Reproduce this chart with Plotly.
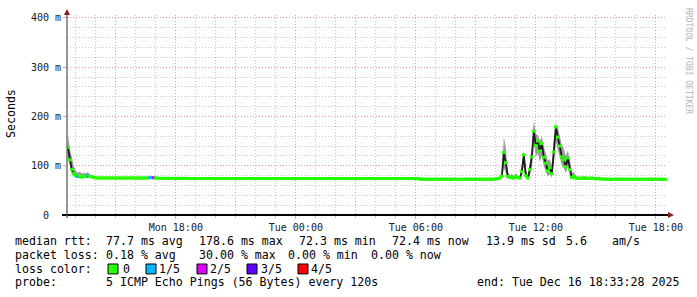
import plotly.graph_objects as go
import pandas as pd

# ---------------- data ----------------
RANGE_START = "2025-12-15 12:33:28"
RANGE_END = "2025-12-16 18:33:28"
FIRST_SAMPLE = "2025-12-15 12:36:00"
SAMPLE_STEP = "6min"

# median rtt in milliseconds, one value per 6 minutes (one row = 1 hour)
median_ms = [
    137, 112, 92, 84, 80, 78, 79, 77, 78, 79,
    79, 78, 78, 76, 75.5, 75, 75.2, 75, 75.1, 75,
    75.2, 75, 75.1, 75, 75.3, 75, 74.9, 75, 75.1, 75,
    75, 75.2, 74.9, 75, 75.1, 75, 75, 74.8, 75, 75.1,
    75, 75.8, 76, 75.5, 75, 74.8, 74, 74.2, 74.5, 74.4,
    74.4, 74.3, 74.4, 74.3, 74.5, 74.3, 74.2, 74.3, 74.4, 74.3,
    74.2, 74, 74.1, 74, 74.2, 74.1, 74, 73.9, 74, 74.1,
    74, 74.1, 74, 73.9, 74, 74.2, 74, 74.1, 73.9, 74,
    74.1, 74, 73.9, 74, 74, 74.1, 74, 73.9, 74, 74.1,
    74, 73.9, 74, 74.1, 74, 74, 73.9, 74, 74.1, 74,
    73.9, 74, 74, 74.1, 74, 73.9, 74, 74, 74.1, 74,
    74, 74.1, 73.9, 74, 74, 74.1, 74, 73.9, 74, 74,
    74.1, 74, 74, 73.9, 74, 74.1, 74, 74, 73.9, 74,
    74, 73.9, 74.1, 74, 74, 73.9, 74, 74.1, 74, 74,
    73.9, 74, 74, 74.1, 74, 74, 73.9, 74, 74.1, 74,
    74, 74.1, 74, 73.9, 74, 74, 74.1, 74, 73.9, 74,
    74, 74, 74.1, 74, 73.9, 74, 74, 74.1, 74, 74,
    74, 73.9, 74, 74.1, 74, 74, 72.7, 72.6, 72.6, 72.7,
    72.6, 72.5, 72.6, 72.7, 72.6, 72.5, 72.6, 72.6, 72.7, 72.6,
    72.5, 72.6, 72.6, 72.7, 72.6, 72.5, 72.6, 72.3, 72.6, 72.7,
    72.6, 72.6, 72.5, 72.6, 72.7, 72.6, 72.5, 72.6, 72.6, 72.7,
    72.6, 72.7, 72.6, 72.8, 73, 74, 75, 79, 127, 106,
    78, 76, 77, 75, 78, 76, 75, 88, 122, 80,
    75, 92, 118, 170, 141, 150, 130, 145, 117, 105,
    90, 96, 84, 128, 178.6, 158, 140, 118, 112, 98,
    116, 92, 76, 79, 75, 74.5, 75, 74, 75.5, 74.5,
    74.8, 74.2, 75, 74, 73.6, 74.2, 73.5, 73, 72.8, 72.6,
    72.7, 72.6, 72.5, 72.6, 72.7, 72.6, 72.5, 72.6, 72.7, 72.6,
    72.6, 72.5, 72.6, 72.6, 72.7, 72.6, 72.5, 72.6, 72.6, 72.5,
    72.6, 72.7, 72.6, 72.5, 72.6, 72.6, 72.5, 72.6, 72.5, 72.4,
]

# highest ping of each sample (top of the smoke)
smoke_hi_ms = [
    165, 135, 118, 98, 90, 86, 88, 84, 86, 84,
    87, 82, 81, 79, 77.5, 76.5, 76.7, 76.5, 76.6, 76.5,
    76.7, 76.5, 76.6, 76.5, 77, 76.5, 76.4, 76.5, 76.6, 76.5,
    76.5, 76.7, 76.4, 76.5, 76.6, 76.5, 76.5, 76.3, 76.5, 76.6,
    76.5, 77.5, 78, 77, 76.5, 76.3, 75.8, 75.7, 76, 75.9,
    75.9, 75.8, 75.9, 75.8, 76, 75.8, 75.7, 75.8, 75.9, 75.8,
    75.7, 75.5, 75.6, 75.5, 75.7, 75.6, 75.5, 75.4, 75.5, 75.6,
    75.5, 75.6, 75.5, 75.4, 75.5, 75.7, 75.5, 75.6, 75.4, 75.5,
    75.6, 75.5, 75.4, 75.5, 75.5, 75.6, 75.5, 75.4, 75.5, 75.6,
    75.5, 75.4, 75.5, 75.6, 75.5, 75.5, 75.4, 75.5, 75.6, 75.5,
    75.4, 75.5, 75.5, 75.6, 75.5, 75.4, 75.5, 75.5, 75.6, 75.5,
    75.5, 75.6, 75.4, 75.5, 75.5, 75.6, 75.5, 75.4, 75.5, 75.5,
    75.6, 75.5, 75.5, 75.4, 75.5, 75.6, 75.5, 75.5, 75.4, 75.5,
    75.5, 75.4, 75.6, 75.5, 75.5, 75.4, 75.5, 75.6, 75.5, 75.5,
    75.4, 75.5, 75.5, 75.6, 75.5, 75.5, 75.4, 75.5, 75.6, 75.5,
    75.5, 75.6, 75.5, 75.4, 75.5, 75.5, 75.6, 75.5, 75.4, 75.5,
    75.5, 75.5, 75.6, 75.5, 75.4, 75.5, 75.5, 75.6, 75.5, 75.5,
    75.5, 75.4, 75.5, 75.6, 75.5, 75.5, 74.2, 74.1, 74.1, 74.2,
    74.1, 74, 74.1, 74.2, 74.1, 74, 74.1, 74.1, 74.2, 74.1,
    74, 74.1, 74.1, 74.2, 74.1, 74, 74.1, 73.8, 74.1, 74.2,
    74.1, 74.1, 74, 74.1, 74.2, 74.1, 74, 74.1, 74.1, 74.2,
    74.1, 74.2, 74.1, 74.3, 74.8, 75.5, 77, 86, 159, 135,
    88, 80, 83, 79, 85, 80, 78, 100, 131, 93,
    80, 106, 140, 193, 165, 162, 150, 160, 138, 125,
    110, 113, 100, 155, 186, 178, 160, 142, 135, 120,
    131, 112, 85, 88, 79, 77, 78, 76.5, 79, 76.5,
    77, 76, 78, 75.5, 75, 76.5, 75, 74.5, 74.2, 74,
    74.1, 74, 73.9, 74, 74.1, 76, 73.9, 74, 74.1, 74,
    74, 73.9, 74, 75.5, 74.1, 74, 73.9, 74, 74, 73.9,
    74, 74.1, 74, 73.9, 74, 74, 73.9, 74, 73.9, 73.8,
]

# lowest ping of each sample (bottom of the smoke)
smoke_lo_ms = [
    118, 96, 82, 78, 76, 75, 75, 74, 75, 75,
    76, 75.5, 75.5, 75, 74.5, 74, 74.2, 74, 74.1, 74,
    74.2, 74, 74.1, 74, 74.3, 74, 73.9, 74, 74.1, 74,
    74, 74.2, 73.9, 74, 74.1, 74, 74, 73.8, 74, 74.1,
    74, 74.8, 75, 74.5, 74, 73.8, 73, 73.2, 73.5, 73.4,
    73.4, 73.3, 73.4, 73.3, 73.5, 73.3, 73.2, 73.3, 73.4, 73.3,
    73.2, 73, 73.1, 73, 73.2, 73.1, 73, 72.9, 73, 73.1,
    73, 73.1, 73, 72.9, 73, 73.2, 73, 73.1, 72.9, 73,
    73.1, 73, 72.9, 73, 73, 73.1, 73, 72.9, 73, 73.1,
    73, 72.9, 73, 73.1, 73, 73, 72.9, 73, 73.1, 73,
    72.9, 73, 73, 73.1, 73, 72.9, 73, 73, 73.1, 73,
    73, 73.1, 72.9, 73, 73, 73.1, 73, 72.9, 73, 73,
    73.1, 73, 73, 72.9, 73, 73.1, 73, 73, 72.9, 73,
    73, 72.9, 73.1, 73, 73, 72.9, 73, 73.1, 73, 73,
    72.9, 73, 73, 73.1, 73, 73, 72.9, 73, 73.1, 73,
    73, 73.1, 73, 72.9, 73, 73, 73.1, 73, 72.9, 73,
    73, 73, 73.1, 73, 72.9, 73, 73, 73.1, 73, 73,
    73, 72.9, 73, 73.1, 73, 73, 71.7, 71.6, 71.6, 71.7,
    71.6, 71.5, 71.6, 71.7, 71.6, 71.5, 71.6, 71.6, 71.7, 71.6,
    71.5, 71.6, 71.6, 71.7, 71.6, 71.5, 71.6, 71.3, 71.6, 71.7,
    71.6, 71.6, 71.5, 71.6, 71.7, 71.6, 71.5, 71.6, 71.6, 71.7,
    71.6, 71.7, 71.6, 71.8, 72, 73, 73.5, 74, 96, 86,
    73.5, 73, 74, 73, 74, 73, 72.5, 78, 100, 75,
    72.5, 80, 95, 150, 118, 125, 108, 120, 98, 88,
    78, 82, 76, 105, 150, 132, 118, 100, 95, 85,
    100, 80, 73.5, 74, 73, 73, 73.2, 72.8, 73.5, 72.8,
    73.5, 73, 73.5, 72.8, 72.5, 73, 72.4, 72, 71.8, 71.6,
    71.7, 71.6, 71.5, 71.6, 71.7, 71.6, 71.5, 71.6, 71.7, 71.6,
    71.6, 71.5, 71.6, 71.6, 71.7, 71.6, 71.5, 71.6, 71.6, 71.5,
    71.6, 71.7, 71.6, 71.5, 71.6, 71.6, 71.5, 71.6, 71.5, 71.4,
]

# lost pings (out of 5) per sample
loss_count = [
    0, 0, 0, 0, 0, 1, 0, 0, 0, 0,
    1, 0, 0, 0, 0, 0, 0, 0, 0, 0,
    0, 0, 0, 0, 0, 0, 0, 0, 0, 0,
    0, 0, 0, 0, 0, 0, 0, 0, 0, 0,
    0, 1, 1, 2, 0, 0, 0, 0, 0, 0,
    0, 0, 0, 0, 0, 0, 0, 0, 0, 0,
    0, 0, 0, 0, 0, 0, 0, 0, 0, 0,
    0, 0, 0, 0, 0, 0, 0, 0, 0, 0,
    0, 0, 0, 0, 0, 0, 0, 0, 0, 0,
    0, 0, 0, 0, 0, 0, 0, 0, 0, 0,
    0, 0, 0, 0, 0, 0, 0, 0, 0, 0,
    0, 0, 0, 0, 0, 0, 0, 0, 0, 0,
    0, 0, 0, 0, 0, 0, 0, 0, 0, 0,
    0, 0, 0, 0, 0, 0, 0, 0, 0, 0,
    0, 0, 0, 0, 0, 0, 0, 0, 0, 0,
    0, 0, 0, 0, 0, 0, 0, 0, 0, 0,
    0, 0, 0, 0, 0, 0, 0, 0, 0, 0,
    0, 0, 0, 0, 0, 0, 0, 0, 0, 0,
    0, 0, 0, 0, 0, 0, 0, 0, 0, 0,
    0, 0, 0, 0, 0, 0, 0, 0, 0, 0,
    0, 0, 0, 0, 0, 0, 0, 0, 0, 0,
    0, 0, 0, 0, 0, 0, 0, 0, 0, 0,
    0, 0, 0, 0, 0, 0, 0, 0, 0, 0,
    0, 0, 0, 0, 0, 0, 0, 0, 0, 0,
    0, 0, 0, 0, 0, 0, 0, 0, 0, 0,
    0, 0, 0, 0, 0, 0, 0, 0, 0, 0,
    0, 0, 0, 0, 0, 0, 0, 0, 0, 0,
    0, 0, 0, 0, 0, 0, 0, 0, 0, 0,
    0, 0, 0, 0, 0, 0, 0, 0, 0, 0,
    0, 0, 0, 0, 0, 0, 0, 0, 0, 0,
]

loss_labels = ["0", "1/5", "2/5", "3/5", "4/5"]
loss_colors = ["#26ff00", "#00b8ff", "#dd00ff", "#5e00ff", "#ff0000"]

y_tick_values = [0, 100, 200, 300, 400]
y_tick_labels = ["0\u00a0\u00a0", "100 m", "200 m", "300 m", "400 m"]

row_heads = ["median rtt:", "packet loss:", "loss color:", "probe:"]
median_stats = ["77.7 ms avg", "178.6 ms max", "72.3 ms min", "72.4 ms now",
                "13.9 ms sd", "5.6", "am/s"]
loss_stats = ["0.18 % avg", "30.00 % max", "0.00 % min", "0.00 % now"]
probe_text = "5 ICMP Echo Pings (56 Bytes) every 120s"
end_text = "end: Tue Dec 16 18:33:28 2025"
y_title = "Seconds"
watermark = "RRDTOOL / TOBI OETIKER"

# ---------------- layout constants (pixels) ----------------
W, H = 697, 297
L, R, T, B = 67, 30, 13, 82
PW, PH = W - L - R, H - T - B
X0_PX, Y0_PX = L, T + PH  # plot origin in pixels


def px_x(p):
    return (p - X0_PX) / PW


def px_y(p):
    return (Y0_PX - p) / PH


MONO = "DejaVu Sans Mono"
TXT = 11.6
row_y_px = [241.5, 255.5, 269.5, 283]
median_stat_x = [107, 200, 300, 393, 487, 567, 613]
loss_stat_x = [107, 200, 289, 372]
legend_box_x = [108, 146, 197, 247, 298]
legend_lbl_x = [124, 160, 211, 262, 312]

times = pd.date_range(FIRST_SAMPLE, periods=len(median_ms), freq=SAMPLE_STEP)
marker_colors = [loss_colors[n] for n in loss_count]

fig = go.Figure()
# smoke (min..max band)
fig.add_trace(go.Scatter(x=times, y=smoke_hi_ms, mode="lines",
                         line=dict(width=0, color="#9c9c9c"),
                         hoverinfo="skip", showlegend=False))
fig.add_trace(go.Scatter(x=times, y=smoke_lo_ms, mode="lines",
                         line=dict(width=0, color="#9c9c9c"),
                         fill="tonexty", fillcolor="#9c9c9c",
                         hoverinfo="skip", showlegend=False))
# dark median trail
fig.add_trace(go.Scatter(x=times, y=median_ms, mode="lines",
                         line=dict(width=1.8, color="#1c1c1c"),
                         hoverinfo="skip", showlegend=False))
# loss-coloured median marks
fig.add_trace(go.Scatter(x=times, y=median_ms, mode="markers",
                         marker=dict(symbol="line-ew", size=2.6,
                                     line=dict(width=3, color=marker_colors)),
                         showlegend=False))

major_x = pd.date_range("2025-12-15 15:00", "2025-12-16 18:00", freq="3h")
minor_x = pd.date_range("2025-12-15 13:00", "2025-12-16 18:00", freq="1h")
major_x_text = [t.strftime("%a %H:%M") if t.hour % 6 == 0 else "" for t in major_x]

fig.update_xaxes(
    type="date", range=[RANGE_START, RANGE_END],
    tickmode="array", tickvals=list(major_x), ticktext=major_x_text,
    showgrid=True, gridcolor="#f29a9a", griddash="1px,2px", gridwidth=1,
    ticks="outside", ticklen=3, tickcolor="#f29a9a",
    tickfont=dict(family=MONO, size=10, color="#202020"),
    minor=dict(tickmode="array", tickvals=list(minor_x), showgrid=True,
               gridcolor="#c8c8c8", griddash="1px,2px", gridwidth=1,
               ticks="outside", ticklen=2, tickcolor="#c8c8c8"),
    showline=False, zeroline=False, fixedrange=True,
)
fig.update_yaxes(
    range=[0, 406], tickmode="array", tickvals=y_tick_values, ticktext=y_tick_labels,
    showgrid=True, gridcolor="#f29a9a", griddash="1px,2px", gridwidth=1,
    ticks="outside", ticklen=3, tickcolor="#f29a9a",
    tickfont=dict(family=MONO, size=10, color="#202020"),
    minor=dict(dtick=20, tick0=0, showgrid=True, gridcolor="#c8c8c8",
               griddash="1px,2px", gridwidth=1),
    showline=False, zeroline=False, fixedrange=True,
)

shapes = [
    dict(type="line", xref="paper", yref="paper", x0=px_x(62), x1=px_x(669),
         y0=px_y(215), y1=px_y(215), line=dict(color="#000000", width=2), layer="above"),
    dict(type="line", xref="paper", yref="paper", x0=px_x(67), x1=px_x(67),
         y0=px_y(218), y1=px_y(11), line=dict(color="#505050", width=1.2), layer="above"),
    dict(type="path", xref="paper", yref="paper",
         path=f"M {px_x(64)},{px_y(13)} L {px_x(70)},{px_y(13)} L {px_x(67)},{px_y(7)} Z",
         fillcolor="#8b1a1a", line=dict(width=0), layer="above"),
    dict(type="path", xref="paper", yref="paper",
         path=f"M {px_x(668)},{px_y(212)} L {px_x(668)},{px_y(218)} L {px_x(674)},{px_y(215)} Z",
         fillcolor="#8b1a1a", line=dict(width=0), layer="above"),
]
for bx, col in zip(legend_box_x, loss_colors):
    shapes.append(dict(type="rect", xref="paper", yref="paper",
                       x0=px_x(bx), x1=px_x(bx + 10),
                       y0=px_y(row_y_px[2] + 5), y1=px_y(row_y_px[2] - 5),
                       fillcolor=col, line=dict(color="#000000", width=1)))

annotations = []


def add_text(text, x_px, y_px, size=TXT, color="#000000", anchor="left", angle=0):
    annotations.append(dict(text=text, x=px_x(x_px), y=px_y(y_px), xref="paper",
                            yref="paper", xanchor=anchor, yanchor="middle",
                            showarrow=False, textangle=angle,
                            borderpad=0, borderwidth=0,
                            font=dict(family=MONO, size=size, color=color)))


for head, yy in zip(row_heads, row_y_px):
    add_text(head, 15, yy)
for s, xx in zip(median_stats, median_stat_x):
    add_text(s, xx - 1, row_y_px[0])
for s, xx in zip(loss_stats, loss_stat_x):
    add_text(s, xx - 1, row_y_px[1])
for s, xx in zip(loss_labels, legend_lbl_x):
    add_text(s, xx - 1, row_y_px[2])
add_text(probe_text, 106, row_y_px[3])
add_text(end_text, 477, row_y_px[3])
add_text(y_title, 11, 113, size=11.6, color="#000000", anchor="center", angle=-90)
add_text(watermark, 688.5, 59, size=8, color="#b4b4b4", anchor="center", angle=90)

fig.update_layout(
    width=W, height=H, autosize=False,
    margin=dict(l=L, r=R, t=T, b=B, pad=0),
    paper_bgcolor="#ffffff", plot_bgcolor="#ffffff",
    showlegend=False, shapes=shapes, annotations=annotations,
    hovermode=False,
)

fig.write_html("out.html", config={"displayModeBar": False})
